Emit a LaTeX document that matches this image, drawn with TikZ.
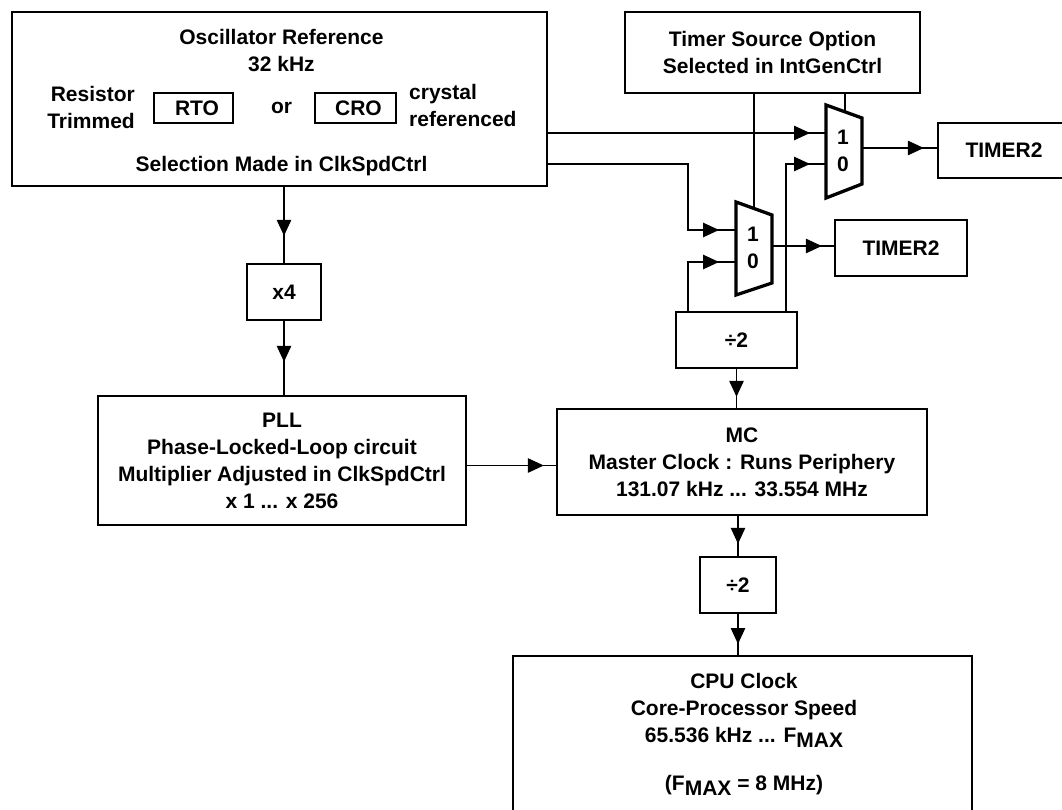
\documentclass[tikz,border=0pt]{standalone}
\usepackage{fontspec}
\setmainfont{Liberation Sans}
\usepackage{tikz}
\usetikzlibrary{arrows.meta, calc, decorations.markings}
\newcommand{\boxfont}{\fontsize{21pt}{27pt}\selectfont\bfseries}
\tikzstyle{block} = [rectangle, line width=2.4pt, draw=black, inner sep=0pt, align=center, font=\boxfont]
\tikzstyle{tag} = [rectangle, line width=2.2pt, draw=black, inner sep=0pt, font=\boxfont]
\tikzstyle{txt} = [inner sep=0pt, font=\boxfont]
\tikzstyle{support} = [coordinate]
\tikzstyle{wire} = [line width=1.2pt]
\tikzstyle{mux} = [line width=3.3pt, line join=miter]
\tikzset{flow/.style={wire, >={Triangle[length=16pt, width=14.5pt]}, decoration={markings, mark=at position #1 with {\arrow{>}}}, postaction={decorate}}}

\begin{document}
\begin{tikzpicture}[x=1pt, y=-1pt]
	\useasboundingbox (0,0) rectangle (1062,810);
	\clip (0,0) rectangle (1062,810);
	% oscillator
	\node (Oscillator) [block, minimum width=535pt, minimum height=174pt] at (279.5,99) {};
	\node (OscTitle) [txt, align=center] at (281.5,50.9) {Oscillator Reference\\32 kHz};
	\node (Resistor) [txt, align=right, anchor=east] at (135,107.4) {Resistor\\Trimmed};
	\node (RTO) [tag, minimum width=79pt, minimum height=30pt] at (193.5,108) {\hspace{7pt}RTO};
	\node (Or) [txt, anchor=base] at (281.5,114) {or};
	\node (CRO) [tag, minimum width=81pt, minimum height=30pt] at (355.5,108) {\hspace{6pt}CRO};
	\node (Crystal) [txt, align=left, anchor=west] at (409,105.7) {crystal\\referenced};
	\node (Selection) [txt, anchor=base] at (281.5,172) {Selection Made in ClkSpdCtrl};
	% blocks
	\node (TimerSource) [block, minimum width=295pt, minimum height=81pt] at (772.5,52.5) {Timer Source Option\\Selected in IntGenCtrl};
	\node (Times4) [block, minimum width=74pt, minimum height=56pt] at (284,292) {x4};
	\node (PLL) [block, minimum width=368pt, minimum height=129pt] at (282,460.5) {PLL\\Phase-Locked-Loop circuit\\Multiplier Adjusted in ClkSpdCtrl\\x 1 ... x 256};
	\node (DivMC) [block, minimum width=121pt, minimum height=56pt] at (736.5,340) {÷2};
	\node (MC) [block, minimum width=370pt, minimum height=106pt] at (742,462) {MC\\Master Clock : Runs Periphery\\131.07 kHz ... 33.554 MHz};
	\node (DivCPU) [block, minimum width=76pt, minimum height=56pt] at (738,585) {÷2};
	\node (CPU) [block, minimum width=459pt, minimum height=230pt, anchor=north] at (742.5,655) {};
	\node (CPUText) [txt, align=center] at (744,733.9) {CPU Clock\\Core-Processor Speed\\65.536 kHz ... F\raisebox{-5pt}{MAX}\\[21pt](F\raisebox{-5pt}{MAX} = 8 MHz)};
	\node (TimerUpper) [block, minimum width=132pt, minimum height=55pt] at (1004,150.5) {TIMER2};
	\node (TimerLower) [block, minimum width=132pt, minimum height=56pt] at (901,248) {TIMER2};
	% multiplexers
	\draw [mux] (826,105) -- (862,118) -- (862,184) -- (826,198) -- cycle;
	\node (MuxUpperOne) [txt] at (843,137) {1};
	\node (MuxUpperZero) [txt] at (843,164) {0};
	\draw [mux] (736,202) -- (772,215) -- (772,283) -- (736,295) -- cycle;
	\node (MuxLowerOne) [txt] at (753,234) {1};
	\node (MuxLowerZero) [txt] at (753,261.5) {0};
	\node (MuxUpperIn1) [support] at (826,133) {};
	\node (MuxUpperIn0) [support] at (826,164) {};
	\node (MuxUpperOut) [support] at (862,148) {};
	\node (MuxUpperSel) [support] at (845,112) {};
	\node (MuxLowerIn1) [support] at (736,230) {};
	\node (MuxLowerIn0) [support] at (736,262) {};
	\node (MuxLowerOut) [support] at (772,246) {};
	\node (MuxLowerSel) [support] at (754,208.5) {};
	\node (TapLeft) [support] at (DivMC.north -| 688,0) {};
	\node (TapRight) [support] at (DivMC.north -| 786,0) {};
	\node (PLLOut) [support] at ($(PLL.east)+(0,5)$) {};
	% connectors
	\draw [flow=-16pt] (Oscillator.east |- MuxUpperIn1) -- (MuxUpperIn1);
	\draw [flow=-17pt] (Oscillator.east |- MuxUpperIn0) -| (TapLeft |- MuxLowerIn1) -- (MuxLowerIn1);
	\draw [flow=-17pt] (TapLeft) |- (MuxLowerIn0);
	\draw [flow=-16pt] (TapRight) |- (MuxUpperIn0);
	\draw [flow=-12pt] (MuxLowerOut) -- (TimerLower.west |- MuxLowerOut);
	\draw [flow=-13pt] (MuxUpperOut) -- (TimerUpper.west |- MuxUpperOut);
	\draw [wire] (TimerSource.south -| MuxLowerSel) -- (MuxLowerSel);
	\draw [wire] (TimerSource.south -| MuxUpperSel) -- (MuxUpperSel);
	\draw [flow=-27pt] (Oscillator.south -| Times4.north) -- (Times4.north);
	\draw [flow=-33pt] (Times4.south) -- (Times4.south |- PLL.north);
	\draw [flow=-12pt] (PLLOut) -- (PLLOut -| MC.west);
	\draw [flow=-11pt] (DivMC.south) -- (DivMC.south |- MC.north);
	\draw [flow=-12pt] (MC.south -| DivCPU.north) -- (DivCPU.north);
	\draw [flow=-11pt] (DivCPU.south) -- (DivCPU.south |- CPU.north);
\end{tikzpicture}
\end{document}
